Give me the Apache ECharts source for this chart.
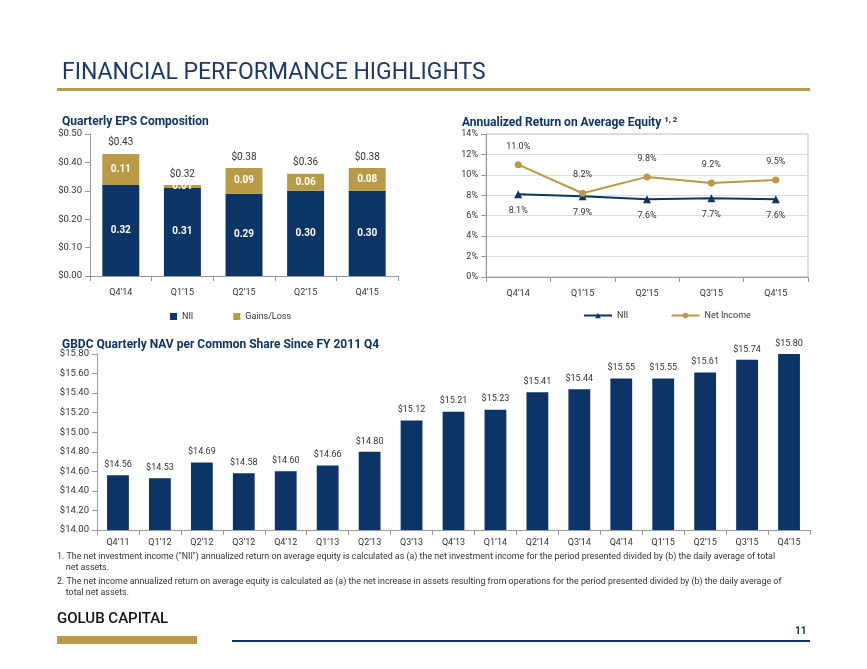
<!DOCTYPE html>
<html>
<head>
<meta charset="utf-8">
<script src="https://cdn.jsdelivr.net/npm/echarts@6/dist/echarts.min.js"></script>
<style>
  html, body { margin: 0; padding: 0; background: #fff; }
  #chart { width: 867px; height: 669px; }
</style>
</head>
<body>
<div id="chart"></div>
<script>
// EPS composition
var epsCats = ['Q4\u201914', 'Q1\u201915', 'Q2\u201915', 'Q2\u201915 ', 'Q4\u201915']
var epsNii = [0.32, 0.31, 0.29, 0.30, 0.30]
var epsGains = [0.11, 0.01, 0.09, 0.06, 0.08]
var epsTotal = ['$0.43', '$0.32', '$0.38', '$0.36', '$0.38']

// return on equity
var roeCats = ['Q4\u201914', 'Q1\u201915', 'Q2\u201915', 'Q3\u201915', 'Q4\u201915']
var roeNii = [8.1, 7.9, 7.6, 7.7, 7.6]
var roeNet = [11.0, 8.2, 9.8, 9.2, 9.5]

// NAV per share
var navCats = ['Q4\u201911', 'Q1\u201912', 'Q2\u201912', 'Q3\u201912', 'Q4\u201912', 'Q1\u201913', 'Q2\u201913', 'Q3\u201913', 'Q4\u201913',
  'Q1\u201914', 'Q2\u201914', 'Q3\u201914', 'Q4\u201914', 'Q1\u201915', 'Q2\u201915', 'Q3\u201915', 'Q4\u201915']
var navVals = [14.56, 14.53, 14.69, 14.58, 14.60, 14.66, 14.80, 15.12, 15.21, 15.23, 15.41, 15.44, 15.55, 15.55, 15.61, 15.74, 15.80]

var navy = '#0c3466'
var gold = '#b99a45'
var txt = '#333'
var font = 'Roboto'

var myChart = echarts.init(document.getElementById('chart'))

var axisLine = { show: true, lineStyle: { color: '#999' } }
var tickLbl = { color: txt, fontSize: 9, fontFamily: font }

myChart.setOption({
    animation: false,
    textStyle: { fontFamily: font },
    title: [
        { text: 'FINANCIAL PERFORMANCE HIGHLIGHTS', left: 57, top: 57, textStyle: { color: '#1b3a6b', fontSize: 23, fontWeight: 'normal', fontFamily: font, letterSpacing: 0.6 } },
        { text: 'Quarterly EPS Composition', left: 57, top: 111, textStyle: { color: navy, fontSize: 12, fontWeight: 'bold', fontFamily: font } },
        { text: 'Annualized Return on Average Equity {s|1, 2}', left: 457, top: 111,
          textStyle: { color: navy, fontSize: 12, fontWeight: 'bold', fontFamily: font, rich: { s: { fontSize: 8, fontWeight: 'bold', color: navy, verticalAlign: 'top', padding: [0, 0, 6, 0] } } } },
        { text: 'GBDC Quarterly NAV per Common Share Since FY 2011 Q4', left: 57, top: 334, textStyle: { color: navy, fontSize: 12, fontWeight: 'bold', fontFamily: font } }
    ],
    graphic: [
        { type: 'rect', shape: { x: 57, y: 88, width: 753, height: 3 }, style: { fill: gold } },
        { type: 'text', left: 57, top: 551, style: { text: '1. The net investment income ("NII") annualized return on average equity is calculated as (a) the net investment income for the period presented divided by (b) the daily average of total\n    net assets.', fill: txt, fontSize: 8.9, lineHeight: 11, fontFamily: font } },
        { type: 'text', left: 57, top: 576, style: { text: '2. The net income annualized return on average equity is calculated as (a) the net increase in assets resulting from operations for the period presented divided by (b) the daily average of\n    total net assets.', fill: txt, fontSize: 8.9, lineHeight: 11, fontFamily: font } },
        { type: 'text', left: 57, top: 612, style: { text: 'GOLUB CAPITAL', fill: '#111', fontSize: 15, fontWeight: 500, fontFamily: font, letterSpacing: 3 } },
        { type: 'rect', shape: { x: 57, y: 636, width: 140, height: 8 }, style: { fill: gold } },
        { type: 'rect', shape: { x: 232, y: 640, width: 578, height: 2 }, style: { fill: navy } },
        { type: 'text', left: 795, top: 626, style: { text: '11', fill: navy, fontSize: 10, fontWeight: 'bold', fontFamily: font } }
    ],
    legend: [
        { left: 165, top: 307, itemWidth: 7, itemHeight: 7, itemGap: 40, data: ['NII', 'Gains/Loss'], textStyle: { fontSize: 9, color: txt }, icon: 'rect' },
        { left: 578, top: 306, itemWidth: 28, itemHeight: 7, itemGap: 40, data: ['NII ', 'Net Income'], textStyle: { fontSize: 9, color: txt } }
    ],
    grid: [
        { left: 90, width: 308, top: 134, height: 142 },
        { left: 486, width: 322, top: 134, height: 143, show: true, borderColor: '#bbb' },
        { left: 97, width: 713, top: 354, height: 176 }
    ],
    xAxis: [
        { gridIndex: 0, type: 'category', data: epsCats, axisLine: axisLine, axisTick: { show: true, lineStyle: { color: '#999' } }, axisLabel: Object.assign({ margin: 12, formatter: function (v) { return v.trim() } }, tickLbl) },
        { gridIndex: 1, type: 'category', data: roeCats, axisLine: axisLine, axisTick: { show: true, lineStyle: { color: '#999' } }, axisLabel: Object.assign({ margin: 12 }, tickLbl) },
        { gridIndex: 2, type: 'category', data: navCats, axisLine: axisLine, axisTick: { show: true, lineStyle: { color: '#999' } }, axisLabel: Object.assign({ margin: 8, interval: 0 }, tickLbl) }
    ],
    yAxis: [
        { gridIndex: 0, type: 'value', min: 0, max: 0.5, interval: 0.1, axisLine: axisLine, axisTick: { show: true, lineStyle: { color: '#999' } }, splitLine: { show: false },
          axisLabel: Object.assign({}, tickLbl, { fontSize: 9.5, formatter: function (v) { return '$' + v.toFixed(2) } }) },
        { gridIndex: 1, type: 'value', min: 0, max: 14, interval: 2, axisLine: axisLine, axisTick: { show: true, lineStyle: { color: '#999' } }, splitLine: { lineStyle: { color: '#ddd' } },
          axisLabel: Object.assign({ formatter: '{value}%' }, tickLbl) },
        { gridIndex: 2, type: 'value', min: 14, max: 15.8, interval: 0.2, axisLine: axisLine, axisTick: { show: true, lineStyle: { color: '#999' } }, splitLine: { show: false },
          axisLabel: Object.assign({}, tickLbl, { fontSize: 9.5, formatter: function (v) { return '$' + v.toFixed(2) } }) }
    ],
    series: [
        { name: 'NII', type: 'bar', xAxisIndex: 0, yAxisIndex: 0, stack: 'eps', data: epsNii, barWidth: '60%', itemStyle: { color: navy },
          label: { show: true, color: '#fff', fontWeight: 'bold', fontSize: 10, formatter: function (p) { return p.value.toFixed(2) } } },
        { name: 'Gains/Loss', type: 'bar', xAxisIndex: 0, yAxisIndex: 0, stack: 'eps', data: epsGains, itemStyle: { color: gold },
          label: { show: true, color: '#fff', fontWeight: 'bold', fontSize: 10, formatter: function (p) { return p.value.toFixed(2) } } },
        { name: 'total', type: 'bar', xAxisIndex: 0, yAxisIndex: 0, stack: 'eps', data: [0, 0, 0, 0, 0], itemStyle: { color: 'transparent' },
          label: { show: true, position: 'top', distance: 6, color: txt, fontSize: 10, formatter: function (p) { return epsTotal[p.dataIndex] } } },
        { name: 'NII ', type: 'line', xAxisIndex: 1, yAxisIndex: 1, data: roeNii, symbol: 'triangle', symbolSize: 8, itemStyle: { color: navy }, lineStyle: { color: navy, width: 2 },
          label: { show: true, position: 'bottom', distance: 8, color: txt, fontSize: 9, formatter: function (p) { return p.value.toFixed(1) + '%' } } },
        { name: 'Net Income', type: 'line', xAxisIndex: 1, yAxisIndex: 1, data: roeNet, symbol: 'circle', symbolSize: 7, itemStyle: { color: gold }, lineStyle: { color: gold, width: 2 },
          label: { show: true, position: 'top', distance: 10, color: txt, fontSize: 9, formatter: function (p) { return p.value.toFixed(1) + '%' } } },
        { name: 'NAV', type: 'bar', xAxisIndex: 2, yAxisIndex: 2, data: navVals, barWidth: '52%', itemStyle: { color: navy },
          label: { show: true, position: 'top', distance: 6, color: txt, fontSize: 9, formatter: function (p) { return '$' + p.value.toFixed(2) } } }
    ]
})
</script>
</body>
</html>
